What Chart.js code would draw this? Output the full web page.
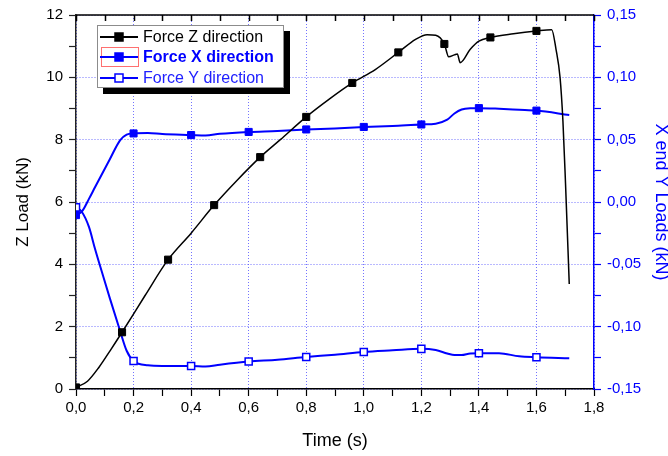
<!DOCTYPE html>
<html>
<head>
<meta charset="utf-8">
<script src="https://cdn.jsdelivr.net/npm/chart.js@4.4.1/dist/chart.umd.min.js"></script>
<style>
html, body { margin: 0; padding: 0; background: #fff; }
</style>
</head>
<body>
<canvas id="chart" width="668" height="456"></canvas>
<script>
// Z load (kN), left axis
const zTime = [0, 0.04, 0.08, 0.12, 0.16, 0.24, 0.32, 0.40, 0.48, 0.56, 0.64, 0.71, 0.80, 0.88, 0.96, 1.04, 1.12, 1.18, 1.22, 1.25, 1.28, 1.295, 1.315, 1.325, 1.335, 1.37, 1.40, 1.44, 1.52, 1.60, 1.653, 1.668, 1.682, 1.692, 1.701, 1.714];
const zLoad = [0.05, 0.25, 0.7, 1.25, 1.82, 3.0, 4.15, 5.0, 5.9, 6.7, 7.44, 8.0, 8.73, 9.3, 9.82, 10.25, 10.8, 11.22, 11.37, 11.35, 11.07, 10.66, 10.72, 10.75, 10.47, 10.9, 11.16, 11.28, 11.4, 11.49, 11.53, 10.9, 10.0, 8.6, 6.6, 3.37];
const zMarks = [0, 0.16, 0.32, 0.48, 0.64, 0.80, 0.96, 1.12, 1.28, 1.44, 1.60];

// X and Y loads (kN), right axis
const xyTime = [0, 0.02, 0.045, 0.066, 0.095, 0.118, 0.153, 0.176, 0.2, 0.25, 0.3, 0.4, 0.45, 0.5, 0.6, 0.7, 0.8, 0.9, 1.0, 1.1, 1.2, 1.25, 1.29, 1.315, 1.34, 1.37, 1.4, 1.47, 1.54, 1.6, 1.714];
const xLoad = [-0.0105, -0.0078, 0.0025, 0.0118, 0.0245, 0.0345, 0.0495, 0.054, 0.055, 0.0553, 0.0545, 0.0537, 0.0533, 0.0547, 0.0562, 0.057, 0.0582, 0.059, 0.0602, 0.061, 0.0622, 0.0628, 0.066, 0.071, 0.0742, 0.0752, 0.0753, 0.0748, 0.074, 0.0733, 0.0698];
const yLoad = [-0.0043, -0.0078, -0.02, -0.0375, -0.06, -0.0775, -0.1033, -0.1193, -0.1275, -0.131, -0.1315, -0.1315, -0.132, -0.1305, -0.128, -0.1265, -0.1243, -0.1225, -0.1203, -0.119, -0.1178, -0.1188, -0.1215, -0.1228, -0.1228, -0.1215, -0.1213, -0.1213, -0.1238, -0.1245, -0.1253];
const xyMarks = [0, 0.2, 0.4, 0.6, 0.8, 1.0, 1.2, 1.4, 1.6];

const seriesNames = ['Force Z direction', 'Force X direction', 'Force Y direction'];

const FONT = '"Liberation Sans", Arial, sans-serif';
const BLUE = '#0000ff';
const GRID = 'rgba(80,80,255,0.8)';

function toPoints(t, v) { return t.map((x, i) => ({ x: x, y: v[i] })); }
function isMark(list, x) { return list.some(m => Math.abs(m - x) < 1e-6); }
function comma(v, d) {
  if (Math.abs(v) < 1e-9) v = 0;
  return v.toFixed(d).replace('.', ',');
}

// cadre du haut avec petites graduations vers l'interieur
const topFrame = {
  id: 'topFrame',
  afterDraw(chart) {
    const c = chart.ctx, a = chart.chartArea, sx = chart.scales.x;
    c.save();
    c.strokeStyle = '#000';
    c.lineWidth = 1.5;
    c.beginPath();
    c.moveTo(a.left, a.top);
    c.lineTo(a.right, a.top);
    sx.ticks.forEach(t => {
      const px = Math.round(sx.getPixelForValue(t.value)) + 0.5;
      c.moveTo(px, a.top);
      c.lineTo(px, a.top + 6);
    });
    c.stroke();
    c.restore();
  }
};

// legende avec ombre, comme Origin
const legendBox = {
  id: 'legendBox',
  afterDraw(chart) {
    const c = chart.ctx;
    c.save();
    c.fillStyle = '#000';
    c.fillRect(103, 31, 187, 63);
    c.fillStyle = '#fff';
    c.fillRect(97, 25, 187, 63);
    c.strokeStyle = '#8c8c8c';
    c.lineWidth = 1;
    c.strokeRect(97.5, 25.5, 186, 62);

    const rows = [
      { color: '#000', text: '#000', fill: '#000', bold: false, y: 37 },
      { color: BLUE, text: BLUE, fill: BLUE, bold: true, y: 57 },
      { color: BLUE, text: '#2020ff', fill: '#fff', bold: false, y: 78 }
    ];
    rows.forEach((r, i) => {
      if (i === 1) {
        c.strokeStyle = '#ff7070';
        c.lineWidth = 1;
        c.strokeRect(101.5, 47.5, 37, 19);
      }
      c.strokeStyle = r.color;
      c.lineWidth = 2;
      c.beginPath();
      c.moveTo(100, r.y);
      c.lineTo(138, r.y);
      c.stroke();
      c.fillStyle = r.fill;
      c.fillRect(115, r.y - 4, 8, 8);
      c.lineWidth = 1.5;
      c.strokeRect(115, r.y - 4, 8, 8);
      c.fillStyle = r.text;
      c.font = (r.bold ? 'bold ' : '') + '16px ' + FONT;
      c.textBaseline = 'middle';
      c.textAlign = 'left';
      c.fillText(seriesNames[i], 143, r.y + 1);
    });
    c.restore();
  }
};

new Chart(document.getElementById('chart'), {
  type: 'line',
  data: {
    datasets: [
      {
        label: seriesNames[0],
        data: toPoints(zTime, zLoad),
        yAxisID: 'y',
        borderColor: '#000',
        borderWidth: 1.5,
        pointStyle: 'rect',
        pointBackgroundColor: '#000',
        pointBorderColor: '#000',
        pointBorderWidth: 1,
        pointRadius: ctx => (ctx.raw && isMark(zMarks, ctx.raw.x)) ? 5 : 0,
        cubicInterpolationMode: 'monotone',
        order: 0
      },
      {
        label: seriesNames[1],
        data: toPoints(xyTime, xLoad),
        yAxisID: 'y2',
        borderColor: BLUE,
        borderWidth: 2,
        pointStyle: 'rect',
        pointBackgroundColor: BLUE,
        pointBorderColor: BLUE,
        pointBorderWidth: 1,
        pointRadius: ctx => (ctx.raw && isMark(xyMarks, ctx.raw.x)) ? 5 : 0,
        cubicInterpolationMode: 'monotone',
        order: 1
      },
      {
        label: seriesNames[2],
        data: toPoints(xyTime, yLoad),
        yAxisID: 'y2',
        borderColor: BLUE,
        borderWidth: 2,
        pointStyle: 'rect',
        pointBackgroundColor: '#fff',
        pointBorderColor: BLUE,
        pointBorderWidth: 1.5,
        pointRadius: ctx => (ctx.raw && isMark(xyMarks, ctx.raw.x)) ? 5 : 0,
        cubicInterpolationMode: 'monotone',
        order: 2
      }
    ]
  },
  options: {
    responsive: false,
    animation: false,
    layout: { padding: { top: 10, left: 0, right: 0, bottom: 0 } },
    plugins: { legend: { display: false }, tooltip: { enabled: false } },
    scales: {
      x: {
        type: 'linear',
        min: 0,
        max: 1.8,
        afterFit: s => { s.height = 67; },
        ticks: {
          stepSize: 0.1,
          autoSkip: false,
          maxRotation: 0,
          padding: 3,
          color: '#000',
          font: { family: FONT, size: 15 },
          callback: v => Math.round(v * 10) % 2 === 0 ? comma(v, 1) : ''
        },
        grid: {
          color: ctx => (ctx.tick && Math.round(ctx.tick.value * 10) % 2 === 0) ? GRID : 'rgba(0,0,0,0)',
          tickColor: '#000',
          tickLength: 7,
          tickWidth: 1.2
        },
        border: { color: '#000', width: 1.5, dash: [1, 2] },
        title: {
          display: true,
          text: 'Time (s)',
          color: '#000',
          font: { family: FONT, size: 18 },
          padding: { top: 0, bottom: 4 }
        }
      },
      y: {
        position: 'left',
        min: 0,
        max: 12,
        afterFit: s => { s.width = 76; },
        ticks: {
          stepSize: 1,
          padding: 6,
          color: '#000',
          font: { family: FONT, size: 15 },
          callback: v => v % 2 === 0 ? String(v) : ''
        },
        grid: {
          color: ctx => (ctx.tick && ctx.tick.value % 2 === 0) ? GRID : 'rgba(0,0,0,0)',
          tickColor: '#222',
          tickLength: 7,
          tickWidth: 1.2
        },
        border: { color: '#222', width: 1.5, dash: [1, 2] },
        title: {
          display: true,
          text: 'Z Load (kN)',
          color: '#000',
          font: { family: FONT, size: 17 },
          padding: { top: 13, bottom: 0 }
        }
      },
      y2: {
        position: 'right',
        min: -0.15,
        max: 0.15,
        afterFit: s => { s.width = 74; },
        ticks: {
          stepSize: 0.025,
          padding: 6,
          color: BLUE,
          font: { family: FONT, size: 15 },
          callback: v => Math.round(v * 1000) % 50 === 0 ? comma(v, 2) : ''
        },
        grid: {
          drawOnChartArea: false,
          tickColor: BLUE,
          tickLength: 7,
          tickWidth: 1.2
        },
        border: { color: BLUE, width: 1.5 },
        title: {
          display: true,
          text: 'X end Y Loads (kN)',
          color: BLUE,
          font: { family: FONT, size: 18, lineHeight: 0.8 },
          padding: { top: 0, bottom: 0 }
        }
      }
    }
  },
  plugins: [topFrame, legendBox]
});
</script>
</body>
</html>
